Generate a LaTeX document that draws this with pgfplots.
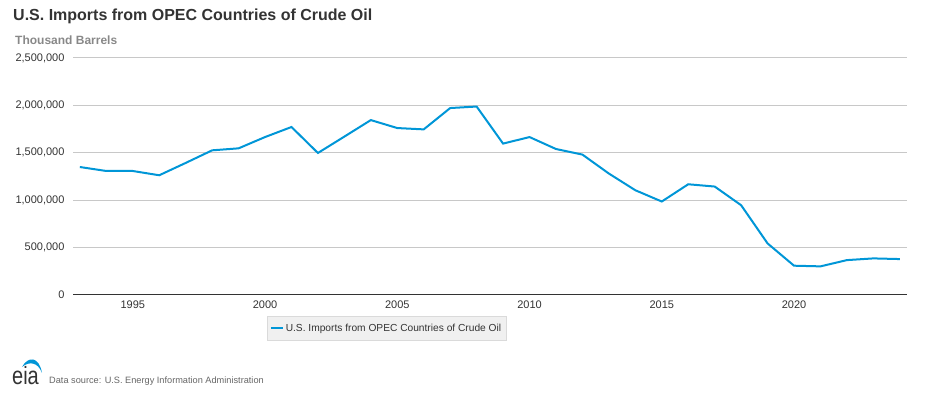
\documentclass[border=0pt]{standalone}
\usepackage{fontspec}
\setmainfont{Liberation Sans}
\usepackage{pgfplots}
\pgfplotsset{compat=1.18}
\definecolor{eiablue}{RGB}{0,150,215}
\definecolor{gridgray}{RGB}{200,200,200}
\definecolor{txt}{RGB}{51,51,51}
\definecolor{subgray}{RGB}{136,136,136}
\definecolor{srcgray}{RGB}{102,102,102}
\definecolor{leggray}{RGB}{240,240,240}
\definecolor{legborder}{RGB}{218,218,218}
\begin{document}
\begin{tikzpicture}[x=1pt,y=1pt]
\useasboundingbox (0,0) rectangle (936,395);
\node[anchor=base west, font=\fontsize{16}{19}\selectfont\bfseries, text=txt, inner sep=0] at (13,374) {U.S. Imports from OPEC Countries of Crude Oil};
\node[anchor=base west, font=\fontsize{12}{14}\selectfont\bfseries, text=subgray, inner sep=0] at (15,350) {Thousand Barrels};
\begin{axis}[
  at={(73pt,100pt)}, anchor=south west, scale only axis,
  width=833.7pt, height=237pt,
  xmin=1992.74, xmax=2024.26, ymin=0, ymax=2500000,
  xtick={1995,2000,2005,2010,2015,2020},
  ytick={0,500000,1000000,1500000,2000000,2500000},
  scaled y ticks=false,
  /pgf/number format/assume math mode=true,
  x tick label style={/pgf/number format/1000 sep={}},
  y tick label style={/pgf/number format/fixed, /pgf/number format/1000 sep={,}, xshift=-5pt},
  tick label style={font=\fontsize{11}{13}\selectfont, text=txt},
  xticklabel style={yshift=-2pt},
  ymajorgrids, major grid style={gridgray, line width=1pt},
  axis x line*=bottom, axis y line*=left,
  y axis line style={draw=none},
  x axis line style={txt, line width=1pt, -},
  major tick length=0pt, tick style={draw=none},
  legend style={at={(0.376,-0.0886)}, anchor=north, fill=leggray, draw=legborder,
    font=\fontsize{10.2}{12}\selectfont, text=txt, inner xsep=3pt, inner ysep=5.5pt},
  legend cell align=left,
  legend image code/.code={\draw[#1, line width=2pt] (0pt,0pt) -- (12pt,0pt);},
]
\addplot[eiablue, line width=2pt, mark=none] coordinates {
(1993,1350000) (1994,1308000) (1995,1308000) (1996,1263000) (1997,1393000)
(1998,1526000) (1999,1547000) (2000,1666000) (2001,1772000) (2002,1498000)
(2003,1671000) (2004,1845000) (2005,1761000) (2006,1747000) (2007,1972000)
(2008,1988000) (2009,1597000) (2010,1666000) (2011,1540000) (2012,1481000)
(2013,1281000) (2014,1105000) (2015,986000) (2016,1168000) (2017,1144000)
(2018,947000) (2019,544000) (2020,309000) (2021,302000) (2022,368000)
(2023,386000) (2024,379000)
};
\addlegendentry{U.S. Imports from OPEC Countries of Crude Oil}
\end{axis}
\node[anchor=base west, font=\fontsize{25}{27}\selectfont, text=txt, inner sep=0, xscale=0.8] at (12,10) {eia};
\fill[eiablue] (22,28) .. controls (28,39) and (39,39) .. (42,22) .. controls (38,33) and (29,34) .. (22,28) -- cycle;
\node[anchor=base west, font=\fontsize{9.2}{11}\selectfont, text=srcgray, inner sep=0] at (49,11) {Data source: U.S. Energy Information Administration};
\end{tikzpicture}
\end{document}
